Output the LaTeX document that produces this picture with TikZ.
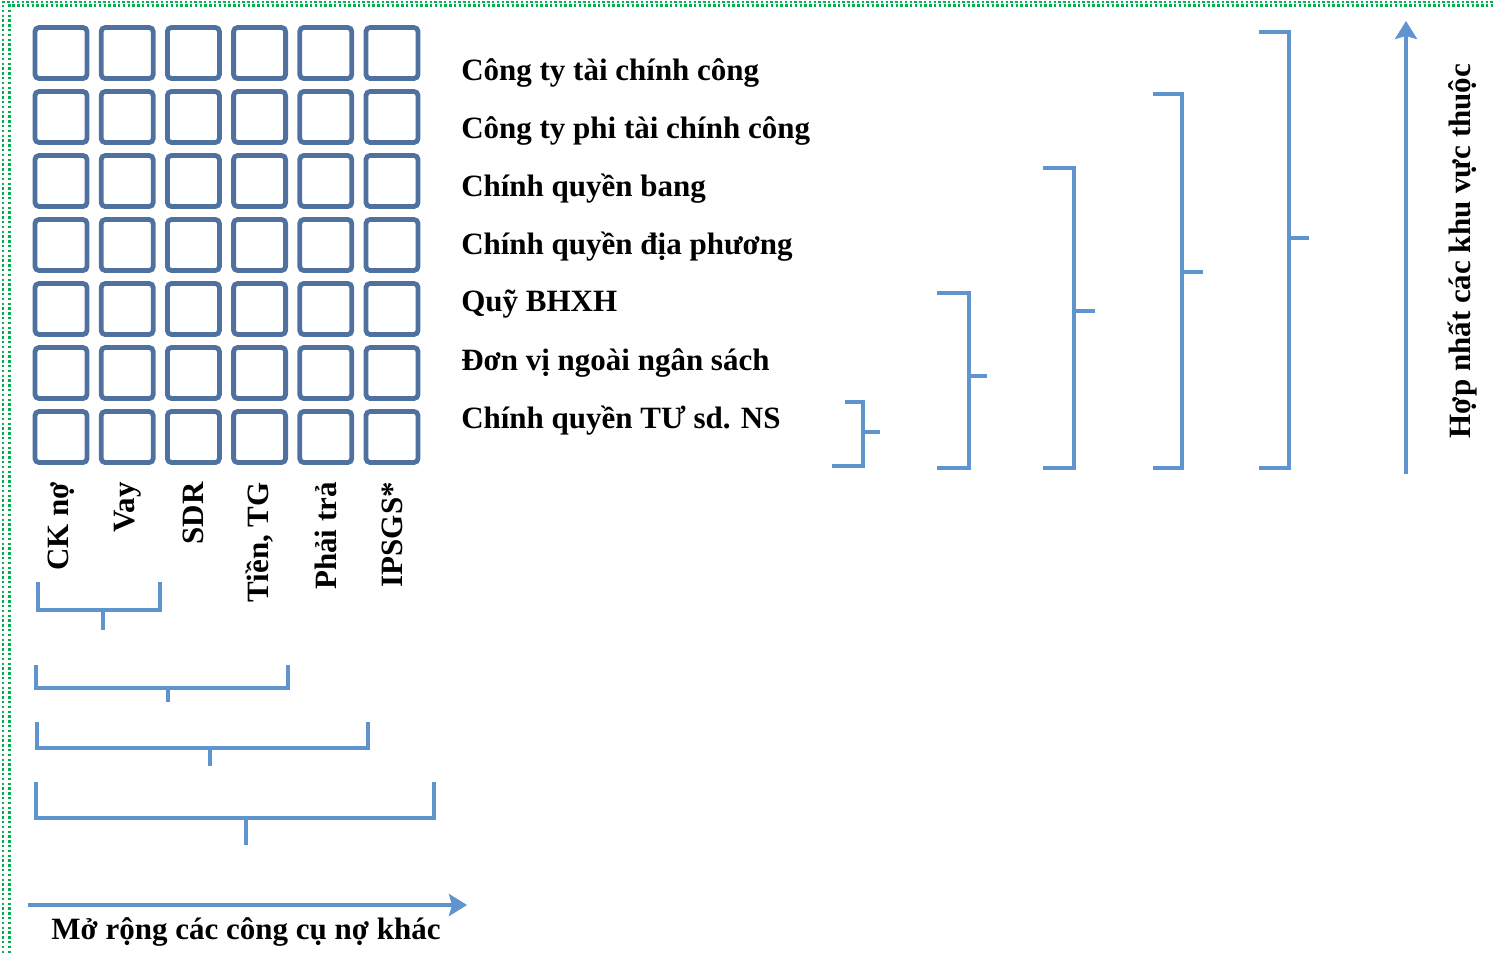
\documentclass[tikz,border=0pt]{standalone}
\usepackage{fontspec}
\setmainfont{Liberation Serif}
\usetikzlibrary{arrows.meta}

\definecolor{gridblue}{RGB}{79,113,160}
\definecolor{brackblue}{RGB}{96,148,206}
\definecolor{framegreen}{RGB}{0,176,80}

\tikzset{every picture/.style={line width=0.75pt}}
\tikzset{
  cell/.style={draw=gridblue, line width=2.4pt, rounded corners=2pt, minimum width=26pt, minimum height=25.5pt, inner sep=0pt},
  rowlabel/.style={anchor=west, inner sep=0.75pt, font=\fontsize{15.5}{18}\selectfont\bfseries},
  collabel/.style={anchor=east, rotate=90, inner sep=0.75pt, font=\fontsize{15.5}{18}\selectfont\bfseries},
  brack/.style={draw=brackblue, line width=2pt},
  bigarrow/.style={draw=brackblue, line width=2pt, -{Stealth[length=9pt,width=11pt,inset=1.5pt]}},
  frame/.style={draw=framegreen, line width=1.2pt, dash pattern=on 1.2pt off 1.2pt}
}

\begin{document}
\begin{tikzpicture}[x=0.5pt,y=0.5pt,yscale=-1,xscale=1]
\useasboundingbox (0,0) rectangle (1495,953);

% Frame
\draw[frame] (3,953) -- (3,2) -- (1495,2);
\draw[frame] (9.5,953) -- (9.5,5.5) -- (1495,5.5);

% Grid of cells
\foreach \r in {1,...,7} {
  \foreach \c in {1,...,6} {
    \node[cell] (cell-\r-\c) at ({61+66.2*(\c-1)},{53+64*(\r-1)}) {};
  }
}

% Text Node
\node[rowlabel] (sec1) at (459,73) {Công ty tài chính công};
% Text Node
\node[rowlabel] (sec2) at (459,131) {Công ty phi tài chính công};
% Text Node
\node[rowlabel] (sec3) at (459,189) {Chính quyền bang};
% Text Node
\node[rowlabel] (sec4) at (459,247) {Chính quyền địa phương};
% Text Node
\node[rowlabel] (sec5) at (459,304) {Quỹ BHXH};
% Text Node
\node[rowlabel] (sec6) at (459,363) {Đơn vị ngoài ngân sách};
% Text Node
\node[rowlabel] (sec7) at (459,421) {Chính quyền TƯ sd. NS};

% Column labels
\node[collabel] (ins1) at (cell-7-1.south |- 0,480) {CK nợ};
\node[collabel] (ins2) at (cell-7-2.south |- 0,480) {Vay};
\node[collabel] (ins3) at (cell-7-3.south |- 0,480) {SDR};
\node[collabel] (ins4) at (cell-7-4.south |- 0,480) {Tiền, TG};
\node[collabel] (ins5) at (cell-7-5.south |- 0,480) {Phải trả};
\node[collabel] (ins6) at (cell-7-6.south |- 0,480) {IPSGS*};

%Shape: bottom brackets
\draw[brack] (38,582) -- (38,610) -- (160,610) -- (160,582) (103,610) -- (103,630);
\draw[brack] (36,665) -- (36,688) -- (288,688) -- (288,665) (168,688) -- (168,702);
\draw[brack] (37,722) -- (37,748) -- (368,748) -- (368,722) (210,748) -- (210,766);
\draw[brack] (36,782) -- (36,818) -- (434,818) -- (434,782) (246,818) -- (246,845);

%Shape: right brackets
\draw[brack] (845,402) -- (863,402) -- (863,466) -- (832,466) (863,432) -- (880,432);
\draw[brack] (937,293) -- (969,293) -- (969,468) -- (937,468) (969,376) -- (987,376);
\draw[brack] (1043,168) -- (1074,168) -- (1074,468) -- (1043,468) (1074,311) -- (1095,311);
\draw[brack] (1153,94) -- (1182,94) -- (1182,468) -- (1153,468) (1182,272) -- (1203,272);
\draw[brack] (1259,32) -- (1289,32) -- (1289,468) -- (1259,468) (1289,238) -- (1309,238);

% Arrows
\coordinate (hstart) at (28,905);
\coordinate (hend) at (467,905);
\coordinate (vstart) at (1406,474);
\coordinate (vend) at (1406,21);
\draw[bigarrow] (hstart) -- (hend);
\draw[bigarrow] (vstart) -- (vend);

% Text Node
\node[inner sep=0.75pt, font=\fontsize{15.5}{18}\selectfont\bfseries] (xlabel) at (246,932) {Mở rộng các công cụ nợ khác};
% Text Node
\node[rotate=90, inner sep=0.75pt, font=\fontsize{15.5}{18}\selectfont\bfseries] (ylabel) at (1463,251) {Hợp nhất các khu vực thuộc};

\end{tikzpicture}
\end{document}
